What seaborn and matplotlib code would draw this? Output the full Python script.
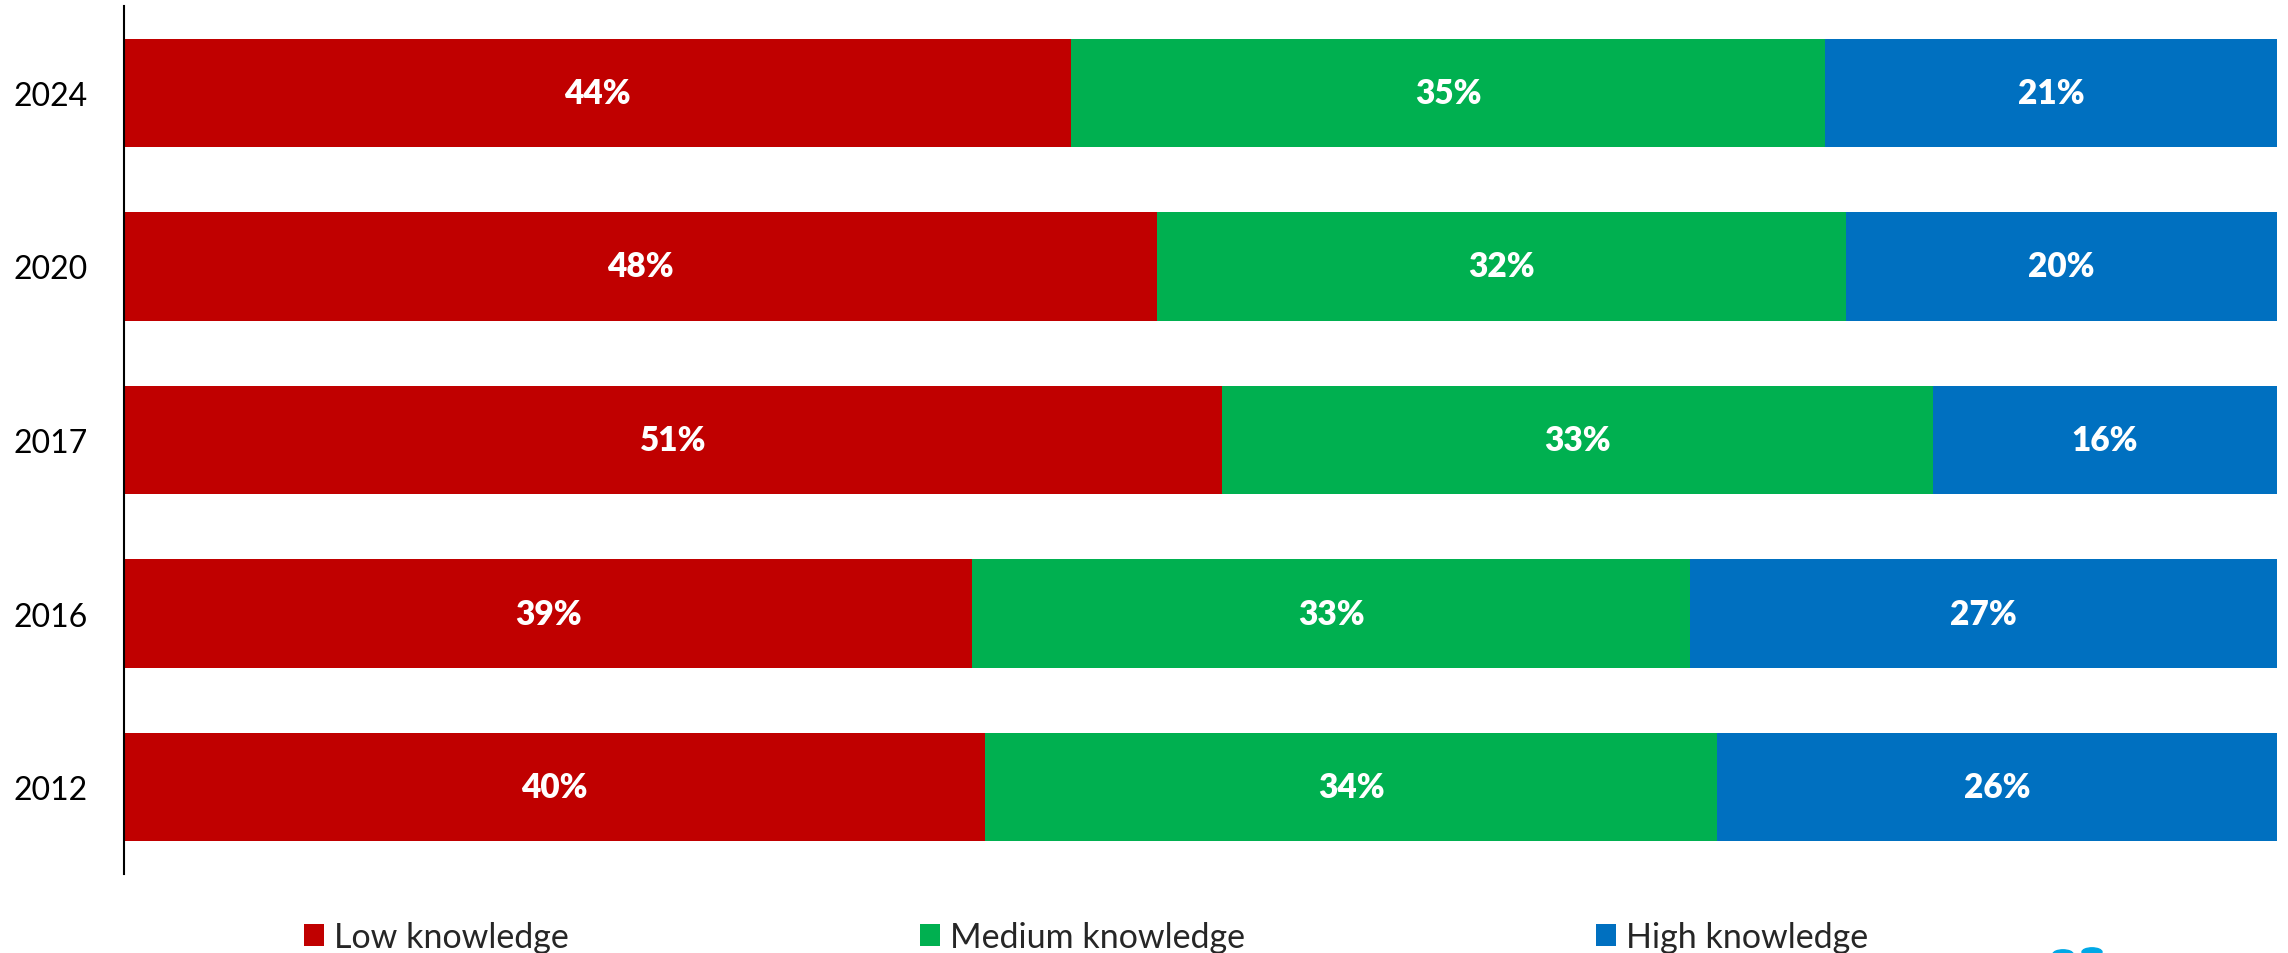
import matplotlib
matplotlib.use("Agg")
import matplotlib.pyplot as plt
from matplotlib.patches import Patch, Circle
import seaborn as sns
import pandas as pd
import numpy as np

# Survey waves, listed top to bottom
years = ["2024", "2020", "2017", "2016", "2012"]
low = [44, 48, 51, 39, 40]
medium = [35, 32, 33, 33, 34]
high = [21, 20, 16, 27, 26]

series = ["Low knowledge", "Medium knowledge", "High knowledge"]
colors = ["#C00000", "#00B050", "#0070C0"]

sns.set_theme(style="white")
plt.rcParams["font.family"] = ["Lato", "DejaVu Sans"]

df = pd.DataFrame({"year": years, "low": low, "medium": medium, "high": high})
total = df[["low", "medium", "high"]].sum(axis=1)
# 100% stacked: each row scaled to its own total
df["s_low"] = df["low"] / total
df["s_med"] = df["medium"] / total
df["s_high"] = df["high"] / total
df["c_low"] = df["s_low"]
df["c_med"] = df["s_low"] + df["s_med"]
df["c_high"] = df["c_med"] + df["s_high"]

fig = plt.figure(figsize=(22.88, 9.54), dpi=100)
ax = fig.add_axes([124 / 2288, 1 - 875 / 954, (2277 - 124) / 2288, (875 - 7) / 954])

bar_w = 0.625
# Draw cumulative layers back to front so each segment shows
for col, color in zip(["c_high", "c_med", "c_low"], colors[::-1]):
    sns.barplot(data=df, x=col, y="year", order=years, color=color,
                width=bar_w, orient="h", linewidth=0, saturation=1, ax=ax)

# Centered value labels on every segment
for i, row in df.iterrows():
    starts = [0, row["c_low"], row["c_med"]]
    widths = [row["s_low"], row["s_med"], row["s_high"]]
    vals = [row["low"], row["medium"], row["high"]]
    for s, w, v in zip(starts, widths, vals):
        ax.text(s + w / 2, i, f"{v}%", ha="center", va="center",
                color="white", fontsize=24, fontweight="heavy")

ax.set_xlim(0, 1)
ax.set_ylim(4.5, -0.5)
ax.set_xlabel("")
ax.set_ylabel("")
ax.set_xticks([])
ax.tick_params(axis="y", length=0, pad=26, labelsize=23, labelcolor="black")
for side in ["top", "right", "bottom"]:
    ax.spines[side].set_visible(False)
ax.spines["left"].set_color("black")
ax.spines["left"].set_linewidth(1.5)

handles = [Patch(facecolor=c, edgecolor="none", label=s) for s, c in zip(series, colors)]
fig.legend(handles=handles, loc="center", bbox_to_anchor=(1086 / 2288, 1 - 938 / 954),
           ncol=3, frameon=False, fontsize=24.5, handlelength=0.6, handleheight=0.62,
           handletextpad=0.3, columnspacing=10.3, borderpad=0)

# Partial logo mark in the lower right corner
for cx, cy in [(2063, 955), (2092, 953)]:
    fig.patches.append(Circle((cx / 2288, 1 - cy / 954), radius=10 / 2288,
                              transform=fig.transFigure, color="#00A8E6"))

fig.savefig("out.png", dpi=100)
